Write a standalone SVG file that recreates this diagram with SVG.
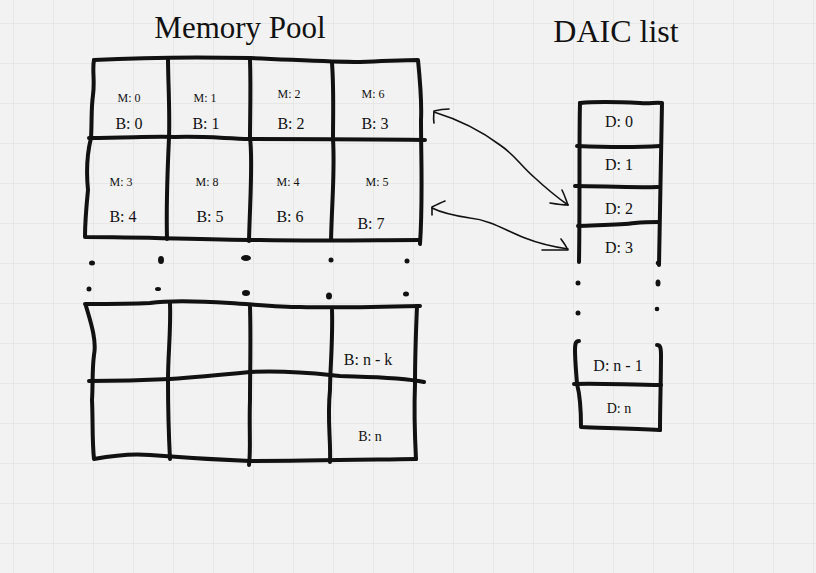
<svg xmlns="http://www.w3.org/2000/svg" width="816" height="573" viewBox="0 0 816 573">
<defs>
<pattern id="grid" x="13" y="23" width="40" height="40" patternUnits="userSpaceOnUse">
<path d="M0 0H40M0 0V40" fill="none" stroke="#e4e4e4" stroke-width="1.5"/>
</pattern>
<style>
.box{fill:none;stroke:#111;stroke-width:4;stroke-linecap:round;stroke-linejoin:round}
.arr{fill:none;stroke:#111;stroke-width:1.6;stroke-linecap:round;stroke-linejoin:round}
.t{font-family:"Liberation Serif","DejaVu Serif",serif;fill:#111;text-anchor:middle}
.title{font-size:31px}
.m{font-size:12px}
.b{font-size:16px}
.dot{fill:#111}
</style>
</defs>
<rect width="816" height="573" fill="#f2f2f2"/>
<rect width="816" height="573" fill="url(#grid)"/>
<text class="t title" x="240" y="38">Memory Pool</text>
<text class="t title" x="616" y="42" style="font-size:32px">DAIC list</text>

<g id="pool-top">
<path class="box" d="M94 60 C92 70 95 80 93 95 C91 110 92 120 91 138 C88 150 86 170 88 190 C86 210 85 225 85 237 C150 237 200 240 260 240 C320 241 380 240 420 240"/>
<path class="box" d="M94 60 C150 57 200 57 250 58 C300 60 330 62 360 62 C390 61 405 60 418 60 C420 80 422 100 421 120 C421 160 423 200 420 244"/>
<path class="box" d="M89 138 C130 138 150 136 175 137 C200 136 220 138 250 139 C300 139 360 139 425 140"/>
<path class="box" d="M168 58 C168 80 170 110 169 138 C168 160 166 200 167 239"/>
<path class="box" d="M250 60 C251 90 250 115 250 138 C253 160 250 200 249 241"/>
<path class="box" d="M332 63 C334 90 333 115 333 139 C335 170 332 200 331 240"/>
<text class="t m" x="129" y="102">M: 0</text>
<text class="t b" x="129" y="129">B: 0</text>
<text class="t m" x="205" y="102">M: 1</text>
<text class="t b" x="206" y="129">B: 1</text>
<text class="t m" x="289" y="98">M: 2</text>
<text class="t b" x="291" y="129">B: 2</text>
<text class="t m" x="373" y="98">M: 6</text>
<text class="t b" x="375" y="129">B: 3</text>
<text class="t m" x="121" y="186">M: 3</text>
<text class="t b" x="123" y="222">B: 4</text>
<text class="t m" x="207" y="186">M: 8</text>
<text class="t b" x="210" y="222">B: 5</text>
<text class="t m" x="288" y="186">M: 4</text>
<text class="t b" x="290" y="222">B: 6</text>
<text class="t m" x="377" y="186">M: 5</text>
<text class="t b" x="371" y="229">B: 7</text>
</g>

<g id="pool-dots">
<ellipse class="dot" cx="92" cy="263" rx="3" ry="2.5"/>
<ellipse class="dot" cx="161" cy="260" rx="3" ry="4"/>
<ellipse class="dot" cx="246" cy="258" rx="5" ry="3"/>
<circle class="dot" cx="331" cy="260" r="2.5"/>
<circle class="dot" cx="407" cy="261" r="2.5"/>
<circle class="dot" cx="89" cy="289" r="2.5"/>
<ellipse class="dot" cx="158" cy="289" rx="3" ry="2"/>
<ellipse class="dot" cx="246" cy="293" rx="4" ry="3"/>
<ellipse class="dot" cx="329" cy="296" rx="3" ry="3.5"/>
<ellipse class="dot" cx="406" cy="294" rx="3" ry="2.5"/>
</g>

<g id="pool-bottom">
<path class="box" d="M85 304 C110 304 130 304 150 303 C170 300 200 301 230 303 C260 305 280 307 300 307 C340 308 380 307 420 306"/>
<path class="box" d="M86 306 C90 320 97 340 94 355 C92 370 93 385 92 400 C93 420 92 440 94 459 C110 456 130 453 150 455 C175 457 200 459 250 461 C300 461 350 460 416 459"/>
<path class="box" d="M417 306 C416 330 415 360 415 384 C414 410 415 440 416 459"/>
<path class="box" d="M89 381 C130 381 150 380 170 379 C200 377 220 375 250 372 C290 370 320 374 340 376 C370 377 400 377 424 382"/>
<path class="box" d="M170 303 C171 330 168 355 168 380 C168 410 169 440 170 459"/>
<path class="box" d="M250 307 C251 340 250 370 250 400 C249 430 251 450 249 465"/>
<path class="box" d="M332 310 C333 340 330 370 330 390 C327 420 331 440 330 462"/>
<text class="t b" x="368" y="365">B: n - k</text>
<text class="t m" x="370" y="441" style="font-size:14px">B: n</text>
</g>

<g id="daic-top">
<path class="box" d="M580 103 C579 140 580 200 579 262"/>
<path class="box" d="M580 103 C600 101 620 102 640 103 C650 104 655 102 662 103 C661 140 660 200 659 265"/>
<path class="box" d="M577 146 C600 147 630 148 660 146"/>
<path class="box" d="M575 186 C600 186 630 188 658 187"/>
<path class="box" d="M578 226 C600 225 620 225 635 223 C645 222 650 222 659 222"/>
<text class="t b" x="619" y="127">D: 0</text>
<text class="t b" x="619" y="170">D: 1</text>
<text class="t b" x="619" y="214">D: 2</text>
<text class="t b" x="619" y="253">D: 3</text>
</g>

<g id="daic-dots">
<circle class="dot" cx="578" cy="283" r="2.5"/>
<circle class="dot" cx="578" cy="313" r="2.5"/>
<ellipse class="dot" cx="658" cy="283" rx="2.5" ry="3.5"/>
<circle class="dot" cx="657" cy="309" r="2.3"/>
<circle class="dot" cx="658" cy="263" r="2.3"/>
</g>

<g id="daic-bottom">
<path class="box" d="M579 341 C576 341 575 343 575 350 C575 360 576 370 577 384 C580 395 581 410 581 427 C600 428 630 428 660 430"/>
<path class="box" d="M657 345 C660 345 661 347 661 355 C661 380 660 405 660 430"/>
<path class="box" d="M574 384 C600 383 630 385 661 385"/>
<text class="t b" x="618" y="371">D: n - 1</text>
<text class="t m" x="619" y="413" style="font-size:14px">D: n</text>
</g>

<g id="connectors">
<path class="arr" d="M434 112 C460 120 480 130 500 145 C515 155 520 165 535 178 C548 190 558 198 568 205"/>
<path class="arr" d="M434 123 C433 118 434 114 434 111 C438 110 443 109 449 109"/>
<path class="arr" d="M550 203 C556 204 562 205 568 205 C566 200 565 196 562 190"/>
<path class="arr" d="M432 208 C440 212 450 215 470 218 C490 220 505 230 525 238 C540 244 555 247 568 249"/>
<path class="arr" d="M432 215 C432 212 432 210 432 207 C436 205 440 203 445 201"/>
<path class="arr" d="M542 250 C550 250 560 250 568 250 C566 246 564 243 561 239"/>
</g>
</svg>
